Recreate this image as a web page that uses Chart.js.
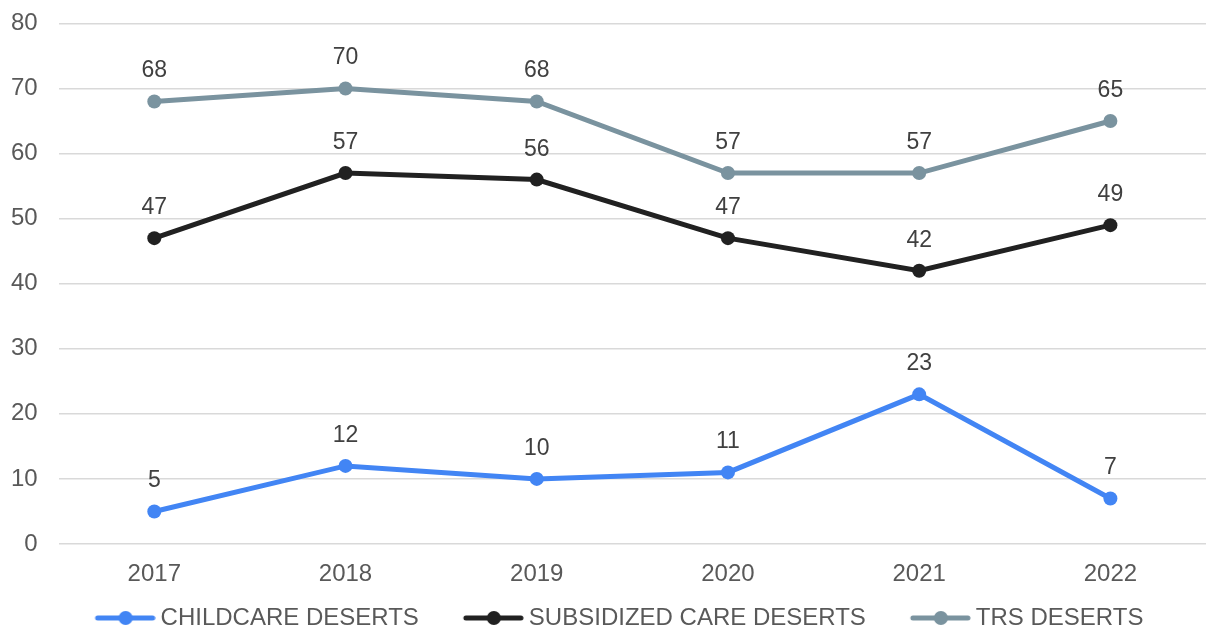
<!DOCTYPE html>
<html>
<head>
<meta charset="utf-8">
<script src="https://cdn.jsdelivr.net/npm/chart.js@4"></script>
<style>
  html, body { margin: 0; padding: 0; background: #fff; }
  #wrap { width: 1206px; height: 630px; }
</style>
</head>
<body>
<div id="wrap"><canvas id="chart"></canvas></div>
<script>
const years = ["2017", "2018", "2019", "2020", "2021", "2022"];
const childcareDeserts = [5, 12, 10, 11, 23, 7];
const subsidizedDeserts = [47, 57, 56, 47, 42, 49];
const trsDeserts = [68, 70, 68, 57, 57, 65];
const yTicks = [0, 10, 20, 30, 40, 50, 60, 70, 80];

const colors = ["#4285F4", "#212121", "#7A939F"];
const FONT = "'Liberation Sans', Arial, sans-serif";

// legend symbol: line with a dot, drawn at the right end of a wider canvas
// (the empty left part makes the gap between legend items)
function legendIcon(color) {
  const c = document.createElement("canvas");
  c.width = 102;
  c.height = 16;
  const ctx = c.getContext("2d");
  ctx.strokeStyle = color;
  ctx.lineWidth = 5;
  ctx.lineCap = "round";
  ctx.beginPath();
  ctx.moveTo(c.width - 58, 8);
  ctx.lineTo(c.width - 3, 8);
  ctx.stroke();
  ctx.fillStyle = color;
  ctx.beginPath();
  ctx.arc(c.width - 30, 8, 7, 0, Math.PI * 2);
  ctx.fill();
  return c;
}

const valueLabels = {
  id: "valueLabels",
  afterLayout(chart) {
    // nudge the legend row a little to the right
    chart.legend.left += 4;
    chart.legend.right += 4;
  },
  afterDatasetsDraw(chart) {
    const ctx = chart.ctx;
    ctx.save();
    ctx.font = "23px " + FONT;
    ctx.fillStyle = "#404040";
    ctx.textAlign = "center";
    ctx.textBaseline = "alphabetic";
    chart.data.datasets.forEach((ds, i) => {
      chart.getDatasetMeta(i).data.forEach((pt, j) => {
        ctx.fillText(ds.data[j], pt.x, pt.y - 24);
      });
    });
    ctx.restore();
  },
};

function makeSet(label, data, color) {
  return {
    label: label,
    data: data,
    borderColor: color,
    backgroundColor: color,
    borderWidth: 5,
    pointRadius: 7,
    pointHoverRadius: 7,
    pointBackgroundColor: color,
    pointBorderWidth: 0,
    tension: 0,
  };
}

new Chart(document.getElementById("chart"), {
  type: "line",
  data: {
    labels: years,
    datasets: [
      makeSet("CHILDCARE DESERTS", childcareDeserts, colors[0]),
      makeSet("SUBSIDIZED CARE DESERTS", subsidizedDeserts, colors[1]),
      makeSet("TRS DESERTS", trsDeserts, colors[2]),
    ],
  },
  options: {
    responsive: true,
    maintainAspectRatio: false,
    animation: false,
    layout: {
      autoPadding: false,
      padding: { top: 0, right: 0, left: -10, bottom: -10 },
    },
    plugins: {
      tooltip: { enabled: false },
      legend: {
        position: "bottom",
        labels: {
          usePointStyle: true,
          pointStyleWidth: 88,
          color: "#595959",
          padding: 10,
          font: { size: 24, family: FONT },
          generateLabels: (chart) =>
            Chart.defaults.plugins.legend.labels
              .generateLabels(chart)
              .map((item, i) => ({ ...item, pointStyle: legendIcon(colors[i]) })),
        },
      },
    },
    scales: {
      x: {
        offset: true,
        grid: { display: false },
        border: { display: false },
        ticks: {
          color: "#595959",
          padding: 4,
          font: { size: 24, family: FONT, lineHeight: 1.5 },
        },
      },
      y: {
        min: 0,
        max: 80,
        afterBuildTicks: (axis) => {
          axis.ticks = yTicks.map((v) => ({ value: v }));
        },
        grid: { color: "#D9D9D9", lineWidth: 1.5, drawTicks: false },
        border: { display: false },
        ticks: {
          color: "#595959",
          padding: 21,
          font: { size: 24, family: FONT, lineHeight: 0.2 },
        },
      },
    },
  },
  plugins: [valueLabels],
});
</script>
</body>
</html>
